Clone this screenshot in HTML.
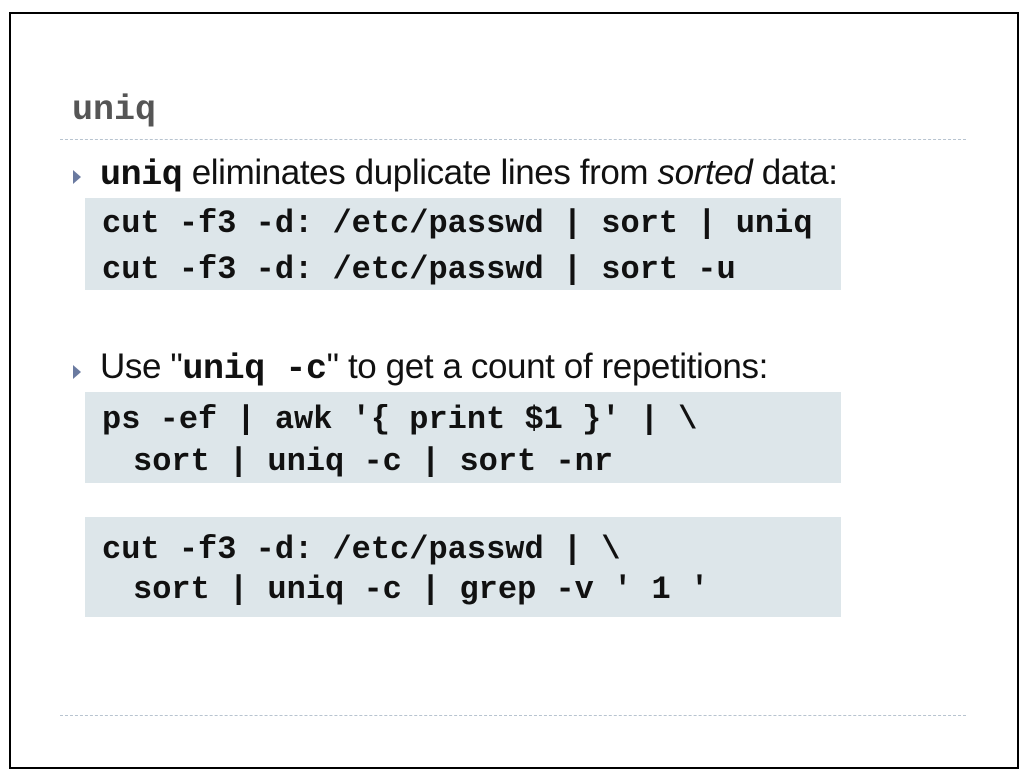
<!DOCTYPE html>
<html><head><meta charset="utf-8"><style>
body{margin:0;width:1030px;height:780px;background:#fff;position:relative;overflow:hidden;font-family:"Liberation Sans",sans-serif}
.frame{position:absolute;left:9px;top:12px;width:1006px;height:753px;border:2px solid #000}
.t{position:absolute;white-space:pre}
.mono{font-family:"Liberation Mono",monospace;font-weight:bold}
.dash{position:absolute;left:60px;width:906px;border-top:1px dashed #b8c4d0;height:0}
.box{position:absolute;left:85px;width:756px;background:#dde6ea}
.code{font-size:32px;color:#111}
.b{font-size:35px;color:#111;letter-spacing:-0.4px}
.tri{position:absolute;width:0;height:0;border-left:8px solid #6a7aa0;border-top:7px solid transparent;border-bottom:7px solid transparent}
</style></head><body>
<div class="frame"></div>
<div class="t mono" style="left:72px;top:90px;font-size:35px;color:#555">uniq</div>
<div class="dash" style="top:139px"></div>
<div class="dash" style="top:715px"></div>

<div class="tri" style="left:73px;top:170px"></div>
<div class="t b" style="left:100px;top:153px"><span class="mono" style="font-size:35px">uniq</span> eliminates duplicate lines from <i>sorted</i> data:</div>
<div class="box" style="top:198px;height:92px"></div>
<div class="t mono code" style="left:102px;top:205px">cut -f3 -d: /etc/passwd | sort | uniq</div>
<div class="t mono code" style="left:102px;top:251px">cut -f3 -d: /etc/passwd | sort -u</div>

<div class="tri" style="left:73px;top:365px"></div>
<div class="t b" style="left:100px;top:347px">Use "<span class="mono" style="font-size:35px">uniq -c</span>" to get a count of repetitions:</div>
<div class="box" style="top:392px;height:91px"></div>
<div class="t mono code" style="left:102px;top:401px">ps -ef | awk '{ print $1 }' | \</div>
<div class="t mono code" style="left:133px;top:443px">sort | uniq -c | sort -nr</div>

<div class="box" style="top:517px;height:100px"></div>
<div class="t mono code" style="left:102px;top:531px">cut -f3 -d: /etc/passwd | \</div>
<div class="t mono code" style="left:133px;top:571px">sort | uniq -c | grep -v ' 1 '</div>
</body></html>
